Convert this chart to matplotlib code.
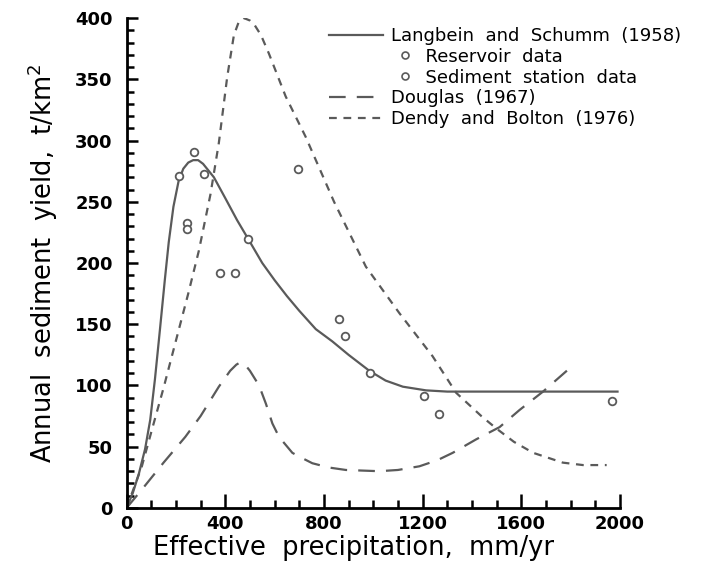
import numpy as np
import matplotlib
matplotlib.use("Agg")
import matplotlib.pyplot as plt
from matplotlib.lines import Line2D
from matplotlib.legend_handler import HandlerLine2D

# curves (precipitation mm/yr, yield t/km2)
ls_x = [0, 25, 50, 75, 96, 115, 135, 155, 171, 190, 211, 230, 250, 270, 290, 310,
        330, 354, 400, 448, 492, 550, 600, 650, 700, 767, 834, 900, 984, 1050,
        1120, 1214, 1300, 1500, 1700, 1990]
ls_y = [0, 12, 28, 48, 72, 105, 145, 186, 217, 246, 267, 277, 282, 284, 284, 281,
        276, 270, 253, 235, 220, 200, 186, 173, 161, 146, 136, 125, 112, 104,
        99, 96, 95, 95, 95, 95]

db_x = [0, 62, 103, 150, 211, 250, 293, 340, 374, 408, 435, 455, 476, 500, 520,
        545, 577, 645, 726, 841, 970, 1106, 1240, 1336, 1438, 1498, 1570, 1648,
        1768, 1850, 1946]
db_y = [0, 34, 64, 98, 145, 175, 210, 256, 298, 352, 386, 397, 400, 398, 394,
        386, 371, 336, 303, 250, 197, 159, 124, 94, 75, 65, 54, 45,
        37, 35, 35]

dg_x = [0, 62, 150, 238, 300, 374, 420, 445, 462, 480, 500, 537, 565, 591, 618,
        672, 699, 753, 820, 889, 1024, 1100, 1187, 1260, 1322, 1417, 1512, 1593,
        1688, 1790]
dg_y = [0, 15, 37, 58, 75, 99, 112, 117, 119, 117, 112, 100, 85, 69, 58,
        45, 42, 36.5, 33, 31, 30, 31, 34, 39, 45, 56, 66, 80,
        95, 113]

res_x = [211, 275, 313, 245, 245, 377, 438, 492]
res_y = [271, 291, 273, 233, 228, 192, 192, 220]
sta_x = [695, 862, 886, 988, 1205, 1268, 1966]
sta_y = [277, 154, 140, 110, 91, 77, 87]

grey = '#5a5a5a'

fig = plt.figure(figsize=(7.11, 5.65), dpi=100)
ax = fig.add_axes([0.178, 0.101, 0.694, 0.867])

ax.plot(ls_x, ls_y, color=grey, lw=1.6)
ax.plot(dg_x, dg_y, color=grey, lw=1.6, dashes=(7.5, 5))
ax.plot(db_x, db_y, color=grey, lw=1.6, dashes=(3.5, 3))
mk = dict(ls='none', marker='o', ms=5.5, mfc='white', mec=grey, mew=1.3)
ax.plot(res_x, res_y, **mk)
ax.plot(sta_x, sta_y, **mk)

ax.set_xlim(0, 2000)
ax.set_ylim(0, 400)
ax.set_xticks(np.arange(0, 2001, 400))
ax.set_xticks(np.arange(0, 2001, 100), minor=True)
ax.set_yticks(np.arange(0, 401, 50))
ax.set_yticks(np.arange(0, 401, 10), minor=True)
for s in ['top', 'right']:
    ax.spines[s].set_visible(False)
for s in ['left', 'bottom']:
    ax.spines[s].set_linewidth(2)
ax.tick_params(which='both', direction='in', width=1.8, labelsize=13)
ax.tick_params(axis='y', which='major', length=8, pad=10)
ax.tick_params(axis='y', which='minor', length=5)
ax.tick_params(axis='x', which='major', length=10, pad=5)
ax.tick_params(axis='x', which='minor', length=6)
for lab in ax.get_xticklabels() + ax.get_yticklabels():
    lab.set_fontweight('bold')

ax.set_xlabel('Effective  precipitation,  mm/yr', fontsize=18.5)
ax.xaxis.set_label_coords(0.46, -0.055, transform=ax.transAxes)
ax.xaxis.label.set_va('top')
ax.set_ylabel('Annual  sediment  yield,  t/km$^2$', fontsize=18.5)
ax.yaxis.set_label_coords(-0.135, 0.5, transform=ax.transAxes)


class IndentHandler(HandlerLine2D):
    # put the marker past the right end of the handle, like the original key
    def create_artists(self, legend, orig_handle, xdescent, ydescent,
                       width, height, fontsize, trans):
        m = Line2D([width * 1.42], [height / 2 - ydescent],
                   ls='none', marker='o', ms=5, mfc='white', mec=grey, mew=1.2)
        m.set_transform(trans)
        return [m]


h_ls = Line2D([], [], color=grey, lw=1.6)
h_res = Line2D([], [], ls='none', marker='o')
h_sta = Line2D([], [], ls='none', marker='o')
h_dg = Line2D([], [], color=grey, lw=1.6, dashes=(7.5, 5))
h_db = Line2D([], [], color=grey, lw=1.6, dashes=(3.5, 3))
ax.legend([h_ls, h_res, h_sta, h_dg, h_db],
          ['Langbein  and  Schumm  (1958)', '      Reservoir  data',
           '      Sediment  station  data', 'Douglas  (1967)',
           'Dendy  and  Bolton  (1976)'],
          handler_map={h_res: IndentHandler(), h_sta: IndentHandler()},
          loc='upper left', bbox_to_anchor=(0.391, 1.0), frameon=False,
          fontsize=13, handlelength=3.0, handletextpad=0.45,
          labelspacing=0.15, borderpad=0)

fig.savefig('out.png', dpi=100)
